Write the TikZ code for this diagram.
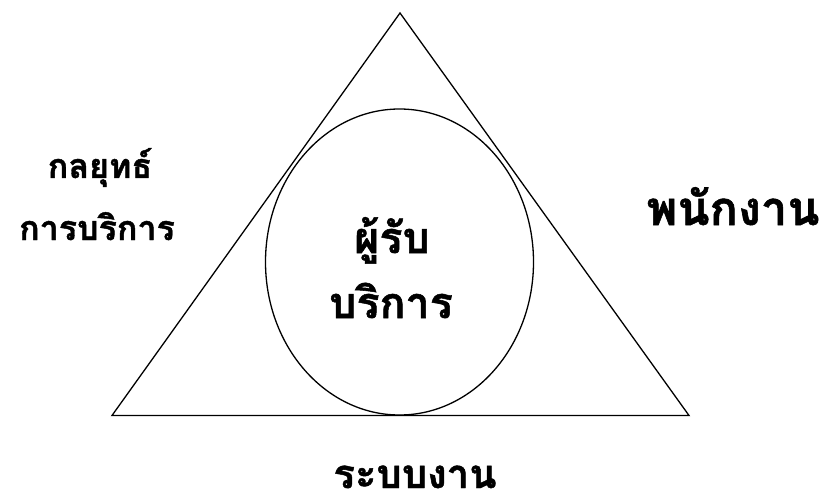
\documentclass[tikz,border=0pt]{standalone}
\usepackage{fontspec}
\usetikzlibrary{shapes.geometric}
\newfontfamily\thaifont[Script=Thai,FakeBold=1.2]{Loma}
\begin{document}
\begin{tikzpicture}[x=1pt,y=-1pt,
  shape line/.style={draw=black,line width=1.3pt,line join=miter},
  thailabel/.style={anchor=base,inner sep=0pt},
  centerfont/.style={font=\thaifont\bfseries\fontsize{43}{43}\selectfont},
  rightfont/.style={font=\thaifont\bfseries\fontsize{47}{47}\selectfont},
  leftfont/.style={font=\thaifont\bfseries\fontsize{34}{34}\selectfont},
  bottomfont/.style={font=\thaifont\bfseries\fontsize{40}{40}\selectfont,text depth=0pt}]
\useasboundingbox (0,0) rectangle (824,497);
\coordinate (apex) at (400,13);
\coordinate (bl) at (112,415.5);
\coordinate (br) at (689,415.5);
\draw[shape line] (apex) -- (bl) -- (br) -- cycle;
\node[shape line,ellipse,minimum width=268pt,minimum height=306pt,inner sep=0pt] (client) at (399.5,262) {};
\node[thailabel,centerfont] (c1) at (392,253) {ผู้รับ};
\node[thailabel,centerfont] (c2) at (391,318) {บริการ};
\node[thailabel,rightfont] (staff) at (733,225) {พนักงาน};
\node[thailabel,leftfont] (s1) at (100,178) {กลยุทธ์};
\node[thailabel,leftfont] (s2) at (97,240) {การบริการ};
\node[thailabel,bottomfont] (sys) at (415,488) {ระบบงาน};
\end{tikzpicture}
\end{document}
